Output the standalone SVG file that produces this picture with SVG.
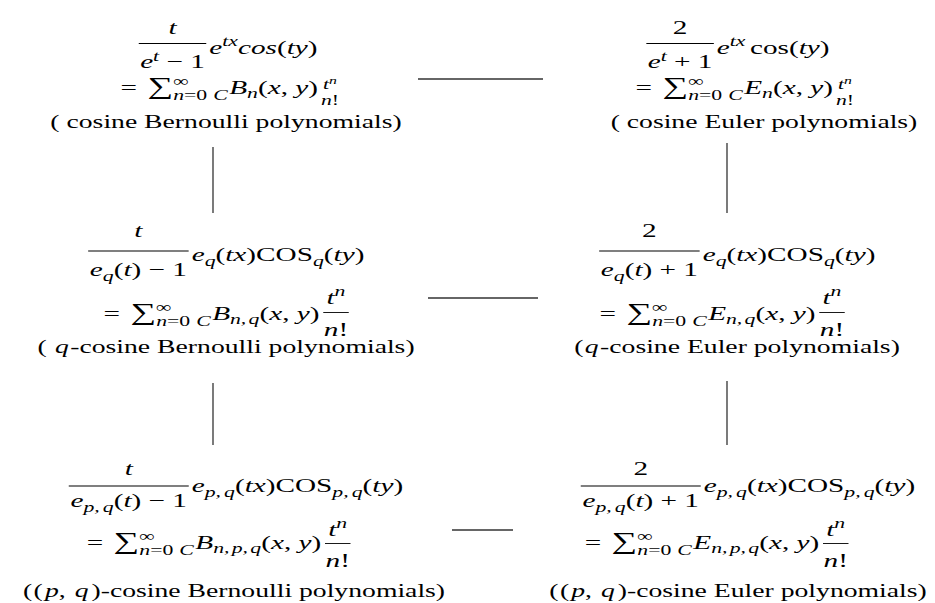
<svg xmlns="http://www.w3.org/2000/svg" width="935" height="603" viewBox="0 0 935 603">
<style>
.t{font-family:"Liberation Serif","Times New Roman",serif;font-size:19.5px;fill:#000}
.i{font-style:italic}
.u{font-style:normal}
.s{font-size:14.5px}
.ss{font-size:10.5px}
.sum{font-size:24px}
.bar{stroke:#000;stroke-width:0.9}
.ln{stroke:#333;stroke-width:1.3;fill:none}
</style>
<rect width="935" height="603" fill="#fff"/>
<g id="connectors" class="ln">
<line x1="418" y1="79" x2="543" y2="79"/>
<line x1="428" y1="298" x2="538" y2="298"/>
<line x1="452" y1="530" x2="513" y2="530"/>
<line x1="213" y1="147" x2="213" y2="213"/>
<line x1="727" y1="143" x2="727" y2="213"/>
<line x1="213" y1="383" x2="213" y2="445"/>
<line x1="727" y1="381" x2="727" y2="445"/>
</g>
<g id="n-tl">
<g transform="translate(228,0) scale(1.5,1)">
<text class="t i" x="-37" y="34" text-anchor="middle">t</text>
<line class="bar" x1="-59.5" y1="43.5" x2="-14.5" y2="43.5"/>
<text class="t" x="-37" y="68" text-anchor="middle"><tspan class="i">e</tspan><tspan class="s i" dy="-7">t</tspan><tspan dy="7"> − 1</tspan></text>
<text class="t" x="-12.5" y="54"><tspan class="i">e</tspan><tspan class="s i" dy="-8">tx</tspan><tspan class="i" dy="8">cos</tspan>(<tspan class="i">ty</tspan>)</text>
</g>
<g transform="translate(228,0) scale(1.5,1)">
<text class="t" x="60" y="94" text-anchor="end">=<tspan class="sum" dx="7">∑</tspan><tspan class="s" dy="-8">∞</tspan><tspan class="s i" dx="-10.3" dy="14">n</tspan><tspan class="s">=0</tspan><tspan class="s i" dx="4">C</tspan><tspan class="i" dx="1" dy="-6">B</tspan><tspan class="s i" dy="4">n</tspan><tspan dy="-4">(</tspan><tspan class="i">x</tspan>, <tspan class="i">y</tspan>)</text>
<text class="t s" x="68" y="89" text-anchor="middle"><tspan class="i">t</tspan><tspan class="ss i" dy="-5">n</tspan></text>
<text class="t s i" x="68" y="105" text-anchor="middle">n<tspan class="u">!</tspan></text>
</g>
<g transform="translate(226,0) scale(1.42,1)">
<text class="t" x="0" y="128" text-anchor="middle">( cosine Bernoulli polynomials)</text>
</g>
</g>
<g id="n-tr">
<g transform="translate(738,0) scale(1.5,1)">
<text class="t" x="-38.6" y="34" text-anchor="middle">2</text>
<line class="bar" x1="-61.1" y1="43.5" x2="-16.1" y2="43.5"/>
<text class="t" x="-38.6" y="68" text-anchor="middle"><tspan class="i">e</tspan><tspan class="s i" dy="-7">t</tspan><tspan dy="7"> + 1</tspan></text>
<text class="t" x="-14.1" y="54"><tspan class="i">e</tspan><tspan class="s i" dy="-8">tx</tspan><tspan dy="8" dx="3">cos(</tspan><tspan class="i">ty</tspan>)</text>
</g>
<g transform="translate(743,0) scale(1.5,1)">
<text class="t" x="60" y="94" text-anchor="end">=<tspan class="sum" dx="7">∑</tspan><tspan class="s" dy="-8">∞</tspan><tspan class="s i" dx="-10.3" dy="14">n</tspan><tspan class="s">=0</tspan><tspan class="s i" dx="4">C</tspan><tspan class="i" dx="1" dy="-6">E</tspan><tspan class="s i" dy="4">n</tspan><tspan dy="-4">(</tspan><tspan class="i">x</tspan>, <tspan class="i">y</tspan>)</text>
<text class="t s" x="68" y="89" text-anchor="middle"><tspan class="i">t</tspan><tspan class="ss i" dy="-5">n</tspan></text>
<text class="t s i" x="68" y="105" text-anchor="middle">n<tspan class="u">!</tspan></text>
</g>
<g transform="translate(764,0) scale(1.42,1)">
<text class="t" x="0" y="128" text-anchor="middle">( cosine Euler polynomials)</text>
</g>
</g>
<g id="n-ml">
<g transform="translate(226,0) scale(1.5,1)">
<text class="t i" x="-58.4" y="237" text-anchor="middle">t</text>
<line class="bar" x1="-91.9" y1="251" x2="-24.9" y2="251"/>
<text class="t" x="-58.4" y="276" text-anchor="middle"><tspan class="i">e</tspan><tspan class="s i" dy="5">q</tspan><tspan dy="-5">(</tspan><tspan class="i">t</tspan>) − 1</text>
<text class="t" x="-22.9" y="261"><tspan class="i">e</tspan><tspan class="s i" dy="5">q</tspan><tspan dy="-5">(</tspan><tspan class="i">tx</tspan>)COS<tspan class="s i" dy="5">q</tspan><tspan dy="-5">(</tspan><tspan class="i">ty</tspan>)</text>
</g>
<g transform="translate(228,0) scale(1.5,1)">
<text class="t" x="61" y="320" text-anchor="end">=<tspan class="sum" dx="7">∑</tspan><tspan class="s" dy="-8">∞</tspan><tspan class="s i" dx="-10.3" dy="14">n</tspan><tspan class="s">=0</tspan><tspan class="s i" dx="4">C</tspan><tspan class="i" dx="1" dy="-6">B</tspan><tspan class="s i" dy="4">n,<tspan dx="1.5">q</tspan></tspan><tspan dy="-4">(</tspan><tspan class="i">x</tspan>, <tspan class="i">y</tspan>)</text>
<text class="t" x="72" y="304" text-anchor="middle"><tspan class="i">t</tspan><tspan class="s i" dy="-8">n</tspan></text>
<line class="bar" x1="63.5" y1="312.5" x2="80.5" y2="312.5"/>
<text class="t i" x="72" y="336" text-anchor="middle">n<tspan class="u">!</tspan></text>
</g>
<g transform="translate(226,0) scale(1.42,1)">
<text class="t" x="0" y="353" text-anchor="middle">( <tspan class="i" dx="1">q</tspan><tspan dx="1">-cosine</tspan> Bernoulli polynomials)</text>
</g>
</g>
<g id="n-mr">
<g transform="translate(737,0) scale(1.5,1)">
<text class="t" x="-58.4" y="237" text-anchor="middle">2</text>
<line class="bar" x1="-91.9" y1="251" x2="-24.9" y2="251"/>
<text class="t" x="-58.4" y="276" text-anchor="middle"><tspan class="i">e</tspan><tspan class="s i" dy="5">q</tspan><tspan dy="-5">(</tspan><tspan class="i">t</tspan>) + 1</text>
<text class="t" x="-22.9" y="261"><tspan class="i">e</tspan><tspan class="s i" dy="5">q</tspan><tspan dy="-5">(</tspan><tspan class="i">tx</tspan>)COS<tspan class="s i" dy="5">q</tspan><tspan dy="-5">(</tspan><tspan class="i">ty</tspan>)</text>
</g>
<g transform="translate(724,0) scale(1.5,1)">
<text class="t" x="61" y="320" text-anchor="end">=<tspan class="sum" dx="7">∑</tspan><tspan class="s" dy="-8">∞</tspan><tspan class="s i" dx="-10.3" dy="14">n</tspan><tspan class="s">=0</tspan><tspan class="s i" dx="4">C</tspan><tspan class="i" dx="1" dy="-6">E</tspan><tspan class="s i" dy="4">n,<tspan dx="1.5">q</tspan></tspan><tspan dy="-4">(</tspan><tspan class="i">x</tspan>, <tspan class="i">y</tspan>)</text>
<text class="t" x="72" y="304" text-anchor="middle"><tspan class="i">t</tspan><tspan class="s i" dy="-8">n</tspan></text>
<line class="bar" x1="63.5" y1="312.5" x2="80.5" y2="312.5"/>
<text class="t i" x="72" y="336" text-anchor="middle">n<tspan class="u">!</tspan></text>
</g>
<g transform="translate(737,0) scale(1.42,1)">
<text class="t" x="0" y="353" text-anchor="middle">(<tspan class="i" dx="1">q</tspan><tspan dx="1">-cosine</tspan> Euler polynomials)</text>
</g>
</g>
<g id="n-bl">
<g transform="translate(236,0) scale(1.5,1)">
<text class="t i" x="-71.5" y="475" text-anchor="middle">t</text>
<line class="bar" x1="-111.5" y1="486" x2="-31.5" y2="486"/>
<text class="t" x="-71.5" y="507" text-anchor="middle"><tspan class="i">e</tspan><tspan class="s i" dy="5">p,<tspan dx="2">q</tspan></tspan><tspan dy="-5">(</tspan><tspan class="i">t</tspan>) − 1</text>
<text class="t" x="-29.5" y="492"><tspan class="i">e</tspan><tspan class="s i" dy="5">p,<tspan dx="2">q</tspan></tspan><tspan dy="-5">(</tspan><tspan class="i">tx</tspan>)COS<tspan class="s i" dy="5">p,<tspan dx="2">q</tspan></tspan><tspan dy="-5">(</tspan><tspan class="i">ty</tspan>)</text>
</g>
<g transform="translate(220,0) scale(1.5,1)">
<text class="t" x="67.5" y="549" text-anchor="end">=<tspan class="sum" dx="7">∑</tspan><tspan class="s" dy="-8">∞</tspan><tspan class="s i" dx="-10.3" dy="14">n</tspan><tspan class="s">=0</tspan><tspan class="s i" dx="4">C</tspan><tspan class="i" dx="1" dy="-6">B</tspan><tspan class="s i" dy="4">n,<tspan dx="1.5">p</tspan>,<tspan dx="1.5">q</tspan></tspan><tspan dy="-4">(</tspan><tspan class="i">x</tspan>, <tspan class="i">y</tspan>)</text>
<text class="t" x="78.5" y="536" text-anchor="middle"><tspan class="i">t</tspan><tspan class="s i" dy="-8">n</tspan></text>
<line class="bar" x1="70" y1="543.5" x2="87" y2="543.5"/>
<text class="t i" x="78.5" y="567" text-anchor="middle">n<tspan class="u">!</tspan></text>
</g>
<g transform="translate(234,0) scale(1.42,1)">
<text class="t" x="0" y="597" text-anchor="middle">(<tspan dx="1">(</tspan><tspan class="i" dx="1.5">p</tspan>, <tspan class="i" dx="1.5">q</tspan><tspan dx="2">)-cosine</tspan> Bernoulli polynomials)</text>
</g>
</g>
<g id="n-br">
<g transform="translate(748,0) scale(1.5,1)">
<text class="t" x="-71.5" y="475" text-anchor="middle">2</text>
<line class="bar" x1="-111.5" y1="486" x2="-31.5" y2="486"/>
<text class="t" x="-71.5" y="507" text-anchor="middle"><tspan class="i">e</tspan><tspan class="s i" dy="5">p,<tspan dx="2">q</tspan></tspan><tspan dy="-5">(</tspan><tspan class="i">t</tspan>) + 1</text>
<text class="t" x="-29.5" y="492"><tspan class="i">e</tspan><tspan class="s i" dy="5">p,<tspan dx="2">q</tspan></tspan><tspan dy="-5">(</tspan><tspan class="i">tx</tspan>)COS<tspan class="s i" dy="5">p,<tspan dx="2">q</tspan></tspan><tspan dy="-5">(</tspan><tspan class="i">ty</tspan>)</text>
</g>
<g transform="translate(718,0) scale(1.5,1)">
<text class="t" x="67.5" y="549" text-anchor="end">=<tspan class="sum" dx="7">∑</tspan><tspan class="s" dy="-8">∞</tspan><tspan class="s i" dx="-10.3" dy="14">n</tspan><tspan class="s">=0</tspan><tspan class="s i" dx="4">C</tspan><tspan class="i" dx="1" dy="-6">E</tspan><tspan class="s i" dy="4">n,<tspan dx="1.5">p</tspan>,<tspan dx="1.5">q</tspan></tspan><tspan dy="-4">(</tspan><tspan class="i">x</tspan>, <tspan class="i">y</tspan>)</text>
<text class="t" x="78.5" y="536" text-anchor="middle"><tspan class="i">t</tspan><tspan class="s i" dy="-8">n</tspan></text>
<line class="bar" x1="70" y1="543.5" x2="87" y2="543.5"/>
<text class="t i" x="78.5" y="567" text-anchor="middle">n<tspan class="u">!</tspan></text>
</g>
<g transform="translate(738,0) scale(1.42,1)">
<text class="t" x="0" y="597" text-anchor="middle">(<tspan dx="1">(</tspan><tspan class="i" dx="1.5">p</tspan>, <tspan class="i" dx="1.5">q</tspan><tspan dx="2">)-cosine</tspan> Euler polynomials)</text>
</g>
</g>
</svg>
